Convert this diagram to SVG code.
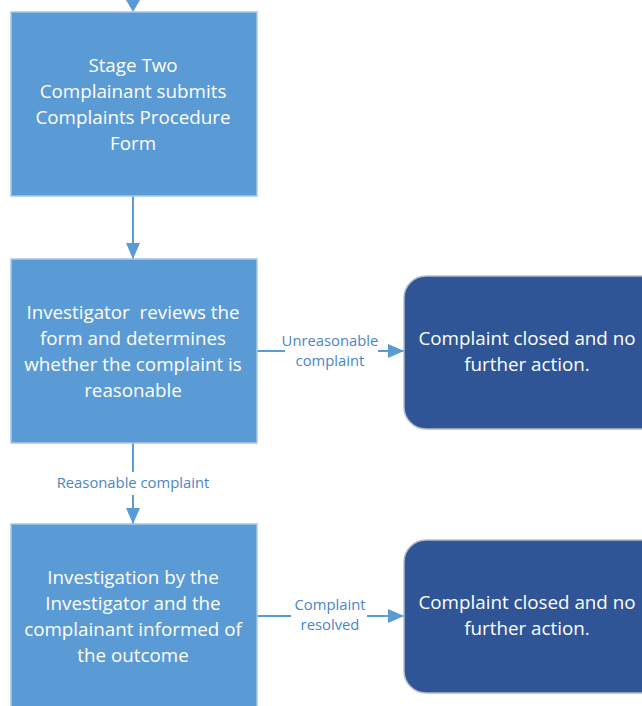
<svg xmlns="http://www.w3.org/2000/svg" width="642" height="706" viewBox="0 0 642 706">
<style>
.proc{fill:#5B9BD5;stroke:#A9C8E8;stroke-width:1.5}
.end{fill:#2F5597;stroke:#B4BCC8;stroke-width:1.5}
.t{font-family:"Open Sans","Liberation Sans",sans-serif;font-size:18.8px;fill:#FFFFFF;text-anchor:middle;white-space:pre}
.lbl{font-family:"Open Sans","Liberation Sans",sans-serif;font-size:14.8px;fill:#4A86C8;text-anchor:middle}
.c{stroke:#5B9BD5;stroke-width:2;fill:none}
</style>
<defs>
<marker id="ah" markerWidth="16" markerHeight="14" refX="16" refY="7" orient="auto" markerUnits="userSpaceOnUse" viewBox="0 0 16 14">
<path d="M0,0 L16,7 L0,14 Z" fill="#5B9BD5"/>
</marker>
</defs>
<g id="connectors">
<line class="c" x1="133" y1="0" x2="133" y2="4"/>
<path d="M126,0 L140,0 L133,12 Z" fill="#5B9BD5"/>
<line class="c" x1="133" y1="196" x2="133" y2="259" marker-end="url(#ah)"/>
<line class="c" x1="133" y1="443" x2="133" y2="472"/>
<line class="c" x1="133" y1="495" x2="133" y2="524" marker-end="url(#ah)"/>
<line class="c" x1="257" y1="351" x2="285" y2="351"/>
<line class="c" x1="378" y1="351" x2="404" y2="351" marker-end="url(#ah)"/>
<line class="c" x1="257" y1="616" x2="291" y2="616"/>
<line class="c" x1="367" y1="616" x2="404" y2="616" marker-end="url(#ah)"/>
<text class="lbl" x="330" y="346">Unreasonable</text>
<text class="lbl" x="330" y="366">complaint</text>
<text class="lbl" x="133" y="488">Reasonable complaint</text>
<text class="lbl" x="330" y="610">Complaint</text>
<text class="lbl" x="330" y="630">resolved</text>
</g>
<g id="stage-two">
<rect class="proc" x="11" y="12" width="246" height="184"/>
<text class="t" x="133" y="72">Stage Two</text>
<text class="t" x="133" y="98">Complainant submits</text>
<text class="t" x="133" y="124">Complaints Procedure</text>
<text class="t" x="133" y="150">Form</text>
</g>
<g id="review">
<rect class="proc" x="11" y="259" width="246" height="184"/>
<text class="t" x="133" y="319">Investigator  reviews the</text>
<text class="t" x="133" y="345">form and determines</text>
<text class="t" x="133" y="371">whether the complaint is</text>
<text class="t" x="133" y="397">reasonable</text>
</g>
<g id="investigation">
<rect class="proc" x="11" y="524" width="246" height="200"/>
<text class="t" x="133" y="584">Investigation by the</text>
<text class="t" x="133" y="610">Investigator and the</text>
<text class="t" x="133" y="636">complainant informed of</text>
<text class="t" x="133" y="662">the outcome</text>
</g>
<g id="closed-1">
<rect class="end" x="404" y="276" width="260" height="153" rx="22"/>
<text class="t" x="527" y="345">Complaint closed and no</text>
<text class="t" x="527" y="371">further action.</text>
</g>
<g id="closed-2">
<rect class="end" x="404" y="540" width="260" height="153" rx="22"/>
<text class="t" x="527" y="609">Complaint closed and no</text>
<text class="t" x="527" y="635">further action.</text>
</g>
</svg>
